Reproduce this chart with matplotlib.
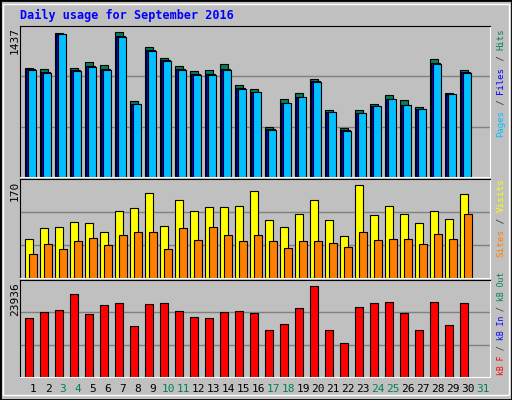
import matplotlib.pyplot as plt
import numpy as np

days = list(range(1, 32))
weekend = [3, 4, 10, 11, 17, 18, 24, 25, 31]

hits = [1061, 1051, 1396, 1061, 1118, 1089, 1405, 735, 1262, 1156, 1080, 1032, 1041, 1099, 898,
        859, 486, 754, 811, 955, 649, 476, 649, 706, 792, 744, 677, 1147, 811, 1041]
files = [1045, 1020, 1390, 1035, 1080, 1045, 1365, 712, 1230, 1135, 1045, 1000, 1000, 1050, 862,
         826, 462, 720, 780, 932, 636, 452, 625, 690, 760, 700, 662, 1110, 805, 1020]
pages = [1041, 1013, 1386, 1032, 1070, 1041, 1358, 706, 1223, 1128, 1041, 993, 993, 1041, 859,
         821, 457, 716, 773, 926, 629, 447, 620, 687, 754, 696, 658, 1099, 802, 1013]
visits = [69, 87, 89, 99, 97, 81, 117, 122, 149, 92, 136, 117, 124, 124, 127,
          152, 101, 90, 113, 136, 101, 73, 163, 110, 126, 112, 96, 117, 103, 147]
sites = [42, 60, 51, 65, 71, 58, 76, 80, 80, 51, 87, 67, 90, 76, 64,
         76, 64, 53, 65, 65, 62, 55, 81, 67, 69, 69, 60, 78, 69, 112]
kbytes = [14881, 16386, 16887, 20900, 15884, 18141, 18643, 12874, 18392, 18643, 16636, 15132, 14881, 16386, 16636,
          16135, 11871, 13376, 17389, 22906, 11871, 8611, 17640, 18643, 18894, 16135, 11871, 18894, 13125, 18643]

W, H = 512, 400
fig = plt.figure(figsize=(W / 100, H / 100), dpi=100)
fig.patch.set_facecolor('#c0c0c0')
mono = 'DejaVu Sans Mono'

def px_axes(x0, y0, x1, y1):
    ax = fig.add_axes([x0 / W, 1 - y1 / H, (x1 - x0) / W, (y1 - y0) / H])
    ax.set_facecolor('#c0c0c0')
    ax.set_xlim(1 - 13 / 15, 1 + 457 / 15)
    ax.set_xticks([])
    ax.set_yticks([])
    for s in ax.spines.values():
        s.set_color('white')
    ax.spines['left'].set_color('black')
    ax.spines['top'].set_color('black')
    return ax

def grid(ax, top):
    for g in (top / 3, 2 * top / 3):
        ax.axhline(g, color='#808080', lw=1, zorder=0)
    ax.set_ylim(0, top)

d = np.array(days[:30])
bk = dict(edgecolor='black', linewidth=0.8, align='edge')

# top panel
ax1 = px_axes(20, 26, 490, 177)
grid(ax1, 1437 * 150 / 147)
ax1.bar(d - 0.53, hits, 0.55, color='#00805c', **bk)
ax1.bar(d - 0.45, files, 0.55, color='#0000ff', **bk)
ax1.bar(d - 0.35, pages, 0.57, color='#00c0ff', **bk)

# middle panel
ax2 = px_axes(20, 179, 490, 278)
grid(ax2, 170 * 97 / 95)
ax2.bar(d - 0.53, visits, 0.53, color='#ffff00', **bk)
ax2.bar(d - 0.27, sites, 0.53, color='#ff8000', **bk)

# bottom panel
ax3 = px_axes(20, 280, 490, 377)
grid(ax3, 23936 * 97 / 95)
ax3.bar(d - 0.53, kbytes, 0.53, color='#ff0000', **bk)

# outer border
fig.add_artist(plt.Rectangle((0, 0), 1, 1, transform=fig.transFigure, fill=False,
                             edgecolor='black', lw=2))
fig.add_artist(plt.Rectangle((3 / W, 5 / H), 1 - 6 / W, 1 - 9 / H, transform=fig.transFigure,
                             fill=False, edgecolor='white', lw=1))

fig.text(20 / W, 1 - 15 / H, 'Daily usage for September 2016', color='#0000ff',
         family=mono, fontweight='bold', fontsize=8.5, va='center')

# max labels
for txt, py in (('1437', 27), ('170', 181), ('23936', 282)):
    fig.text(15 / W, 1 - py / H, txt, rotation=90, family=mono, fontsize=8,
             ha='center', va='top')

# right-side legends, reading bottom to top
def vlegend(parts, ybottom, fs):
    cw = fs * 100 / 72 * 0.602
    y = ybottom
    for txt, col in parts:
        fig.text(501 / W, 1 - y / H, txt, rotation=90, family=mono, fontsize=fs,
                 color=col, ha='center', va='bottom')
        y -= cw * len(txt)

vlegend([('Pages', '#00c0ff'), (' / ', '#333333'), ('Files', '#0000ff'),
         (' / ', '#333333'), ('Hits', '#00805c')], 137, 6.5)
vlegend([('Sites', '#ff8000'), (' / ', '#333333'), ('Visits', '#ffff00')], 257, 6.7)
vlegend([('kB F', '#ff0000'), (' / ', '#333333'), ('kB In', '#0000ff'),
         (' / ', '#333333'), ('kB Out', '#00805c')], 375, 5.9)

# day labels
for i in days:
    fig.text((33 + 15 * (i - 1)) / W, 1 - 389 / H, str(i), family=mono, fontsize=8,
             color='#00805c' if i in weekend else 'black', ha='center', va='center')

fig.savefig('out.png', dpi=100, facecolor=fig.get_facecolor())
